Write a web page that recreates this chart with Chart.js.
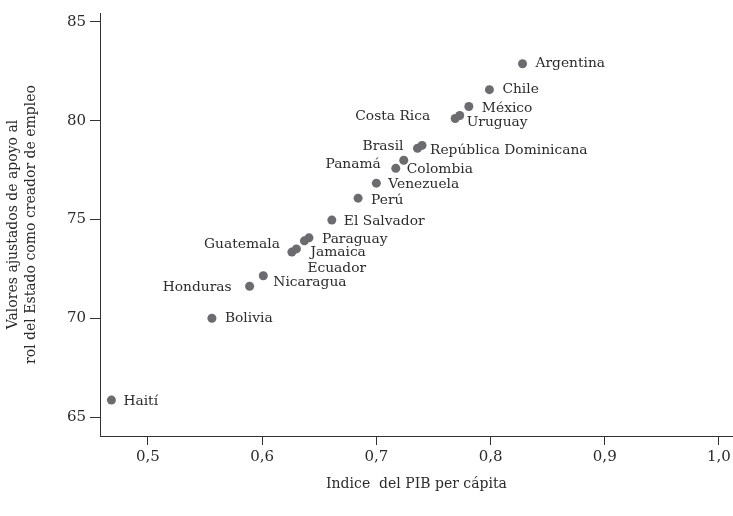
<!DOCTYPE html>
<html>
<head>
<meta charset="utf-8">
<script src="https://cdn.jsdelivr.net/npm/chart.js@4/dist/chart.umd.min.js"></script>
<style>
  html, body { margin: 0; padding: 0; background: #fff; }
  canvas { display: block; }
</style>
</head>
<body>
<canvas id="chart" width="733" height="516"></canvas>
<script>
const countries = ['Haití', 'Bolivia', 'Honduras', 'Nicaragua', 'Guatemala', 'Ecuador', 'Jamaica', 'Paraguay',
  'El Salvador', 'Perú', 'Venezuela', 'Panamá', 'Colombia', 'Brasil', 'República Dominicana',
  'Costa Rica', 'Uruguay', 'México', 'Chile', 'Argentina'];
const gdpIndex = [0.468, 0.556, 0.589, 0.601, 0.626, 0.630, 0.637, 0.641,
  0.661, 0.684, 0.700, 0.717, 0.724, 0.736, 0.740,
  0.769, 0.773, 0.781, 0.799, 0.828];
const stateSupport = [65.86, 70.0, 71.62, 72.15, 73.35, 73.51, 73.92, 74.07,
  74.97, 76.08, 76.84, 77.59, 78.0, 78.6, 78.75,
  80.11, 80.26, 80.72, 81.57, 82.88];
const xTicks = [0.5, 0.6, 0.7, 0.8, 0.9, 1.0];
const yTicks = [65, 70, 75, 80, 85];

// where each name sits relative to its dot: [dx, dy, align]
const labelPlacement = [
  [12, 1, 'left'], [13, 0, 'left'], [-18, 1, 'right'], [10, 7, 'left'], [-12, -8, 'right'],
  [11, 19, 'left'], [6, 12, 'left'], [13, 2, 'left'], [12, 1, 'left'], [13, 2, 'left'],
  [12, 1, 'left'], [-15, -4, 'right'], [3, 9, 'left'], [-14, -2, 'right'], [8, 5, 'left'],
  [-25, -2, 'right'], [7, 7, 'left'], [13, 2, 'left'], [13, 0, 'left'], [13, 0, 'left']
];

const FONT = '"DejaVu Serif", "Liberation Serif", serif';
const INK = '#2b2b2b';

const pointLabels = {
  id: 'pointLabels',
  afterDatasetsDraw(chart) {
    const ctx = chart.ctx;
    const meta = chart.getDatasetMeta(0);
    ctx.save();
    ctx.font = '13.8px ' + FONT;
    ctx.fillStyle = INK;
    ctx.textBaseline = 'middle';
    meta.data.forEach((pt, i) => {
      const [dx, dy, align] = labelPlacement[i];
      ctx.textAlign = align;
      ctx.fillText(countries[i], pt.x + dx, pt.y + dy);
    });
    ctx.restore();
  }
};

new Chart(document.getElementById('chart').getContext('2d'), {
  type: 'scatter',
  data: {
    datasets: [{
      data: gdpIndex.map((x, i) => ({ x, y: stateSupport[i] })),
      backgroundColor: '#6b6b70',
      borderWidth: 0,
      pointRadius: 4.5,
      pointHoverRadius: 4.5
    }]
  },
  options: {
    responsive: false,
    animation: false,
    layout: { autoPadding: false, padding: { top: 11, right: 0, bottom: 0, left: 0 } },
    plugins: { legend: { display: false }, tooltip: { enabled: false } },
    scales: {
      x: {
        type: 'linear',
        min: 0.458,
        max: 1.0123,
        afterBuildTicks: (scale) => { scale.ticks = xTicks.map(value => ({ value })); },
        afterFit: (scale) => {
          scale.height = 80;
          scale.paddingRight = 0;
          scale.paddingLeft = 0;
        },
        border: { display: true, color: '#333', width: 1 },
        grid: { display: true, drawOnChartArea: false, drawTicks: true, tickLength: 9, color: '#333' },
        ticks: {
          padding: 3,
          color: INK,
          font: { family: FONT, size: 15 },
          maxRotation: 0,
          callback: (v) => v.toFixed(1).replace('.', ',')
        },
        title: {
          display: true,
          text: 'Indice  del PIB per cápita',
          color: INK,
          font: { family: FONT, size: 14 },
          padding: { top: 0, bottom: 23 }
        }
      },
      y: {
        type: 'linear',
        min: 64.043,
        max: 85.45,
        afterBuildTicks: (scale) => { scale.ticks = yTicks.map(value => ({ value })); },
        afterFit: (scale) => { scale.width = 100; },
        border: { display: true, color: '#333', width: 1 },
        grid: { display: true, drawOnChartArea: false, drawTicks: true, tickLength: 10, color: '#333' },
        ticks: {
          padding: 4,
          color: INK,
          font: { family: FONT, size: 15 }
        },
        title: {
          display: true,
          text: ['Valores ajustados de apoyo al', 'rol del Estado como creador de empleo'],
          color: INK,
          font: { family: FONT, size: 14, lineHeight: 1.3 },
          padding: { top: 4, bottom: 0 }
        }
      }
    }
  },
  plugins: [pointLabels]
});
</script>
</body>
</html>
